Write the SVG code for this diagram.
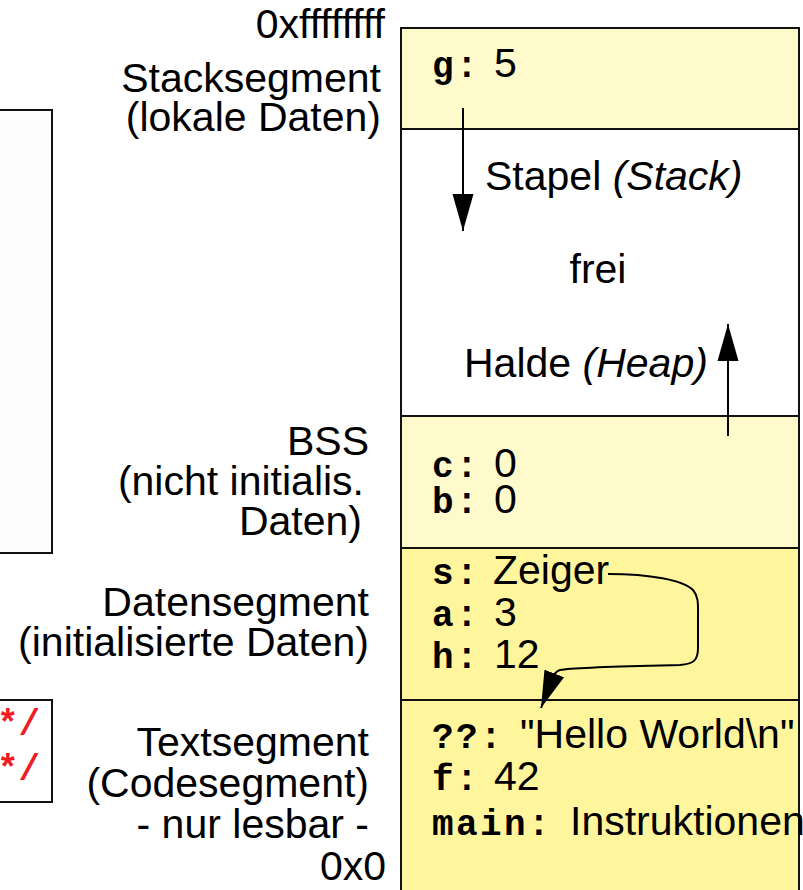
<svg xmlns="http://www.w3.org/2000/svg" width="803" height="890" viewBox="0 0 803 890">
<defs>
<style>
.lbl{font-family:"Liberation Sans",Arial,sans-serif;font-size:41px;fill:#000}
.end{text-anchor:end}
.mono{font-family:"Liberation Mono","Courier New",monospace;font-weight:bold;font-size:36px;letter-spacing:2.4px;fill:#000}
.red{font-family:"Liberation Mono","Courier New",monospace;font-weight:bold;font-size:36px;fill:#f01c24}
.box{stroke:#111;stroke-width:2}
.conn{fill:none;stroke:#000;stroke-width:2}
</style>
<marker id="ah" markerUnits="userSpaceOnUse" markerWidth="38" markerHeight="22" refX="37" refY="11" orient="auto">
<polygon points="0,0.5 37,11 0,21.5" fill="#000"/>
</marker>
</defs>
<rect width="803" height="890" fill="#fff"/>

<g id="left-box"><rect class="box" x="-10" y="110" width="62" height="443" fill="#fdfdfd"/></g>
<g id="red-box">
<rect class="box" x="-10" y="700" width="62" height="102" fill="#fff"/>
<text class="red" x="-3" y="735">*/</text>
<text class="red" x="-3" y="780">*/</text>
</g>

<g id="labels">
<text class="lbl end" x="385" y="38">0xffffffff</text>
<text class="lbl end" x="381" y="92">Stacksegment</text>
<text class="lbl end" x="381" y="131">(lokale Daten)</text>
<text class="lbl end" x="369" y="455">BSS</text>
<text class="lbl end" x="364" y="495">(nicht initialis.</text>
<text class="lbl end" x="362" y="535">Daten)</text>
<text class="lbl end" x="369" y="616">Datensegment</text>
<text class="lbl end" x="369" y="656">(initialisierte Daten)</text>
<text class="lbl end" x="369" y="756">Textsegment</text>
<text class="lbl end" x="369" y="797">(Codesegment)</text>
<text class="lbl end" x="369" y="838">- nur lesbar -</text>
<text class="lbl end" x="386" y="880">0x0</text>
</g>

<g id="stack-segment">
<rect class="box" x="401" y="28" width="398" height="101" fill="#fffacc"/>
<text class="mono" x="432" y="77">g:</text>
<text class="lbl" x="494" y="77">5</text>
</g>
<g id="free-area">
<rect class="box" x="401" y="129" width="398" height="287" fill="#fff"/>
<text class="lbl" x="485" y="190">Stapel <tspan font-style="italic">(Stack)</tspan></text>
<text class="lbl" x="598" y="283" text-anchor="middle">frei</text>
<text class="lbl" x="464" y="377">Halde <tspan font-style="italic">(Heap)</tspan></text>
</g>
<g id="bss-segment">
<rect class="box" x="401" y="416" width="398" height="132" fill="#fffacc"/>
<text class="mono" x="432" y="477">c:</text>
<text class="lbl" x="494" y="477">0</text>
<text class="mono" x="432" y="513">b:</text>
<text class="lbl" x="494" y="513">0</text>
</g>
<g id="data-segment">
<rect class="box" x="401" y="548" width="398" height="152" fill="#fff59d"/>
<text class="mono" x="432" y="584">s:</text>
<text class="lbl" x="493" y="584">Zeiger</text>
<text class="mono" x="432" y="626">a:</text>
<text class="lbl" x="494" y="626">3</text>
<text class="mono" x="432" y="668">h:</text>
<text class="lbl" x="494" y="668">12</text>
</g>
<g id="text-segment">
<rect class="box" x="401" y="700" width="398" height="200" fill="#fff59d"/>
<text class="mono" x="432" y="748">??:</text>
<text class="lbl" x="520" y="748">"Hello World\n"</text>
<text class="mono" x="432" y="790">f:</text>
<text class="lbl" x="494" y="790">42</text>
<text class="mono" x="432" y="835">main:</text>
<text class="lbl" x="570" y="835">Instruktionen</text>
</g>

<g id="connectors">
<line class="conn" x1="463" y1="108" x2="463" y2="231" marker-end="url(#ah)"/>
<line class="conn" x1="728" y1="436" x2="728" y2="324" marker-end="url(#ah)"/>
<path class="conn" stroke-width="1.6" d="M 608,574 C 650,574 683,580 693,590 C 699,597 698,605 698,620 L 698,648 C 698,660 694,664 680,665 C 640,666 575,667 560,670 C 556,671 553,675 551,682 L 541,708" marker-end="url(#ah)"/>
</g>
</svg>
